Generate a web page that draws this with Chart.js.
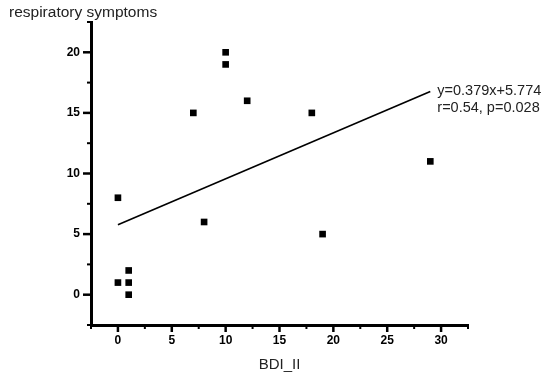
<!DOCTYPE html>
<html>
<head>
<meta charset="utf-8">
<script src="https://cdn.jsdelivr.net/npm/chart.js@4"></script>
<style>
  html, body { margin: 0; padding: 0; background: #fff; }
  #wrap { width: 550px; height: 382px; }
</style>
</head>
<body>
<div id="wrap"><canvas id="bdi-scatter"></canvas></div>
<script>
// data
const bdiScores = [0, 0, 1, 1, 1, 7, 8, 10, 10, 12, 18, 19, 29];
const symptomScores = [1, 8, 0, 1, 2, 15, 6, 19, 20, 16, 15, 5, 11];
const fitX = [0, 29];
const fitY = [5.774, 16.765];
const fitText = ['y=0.379x+5.774', 'r=0.54, p=0.028'];
const yTitle = 'respiratory symptoms';
const xTitle = 'BDI_II';

const FONT = 'Arial, "Liberation Sans", sans-serif';

document.addEventListener('DOMContentLoaded', function() {
    const points = bdiScores.map((x, i) => ({ x: x, y: symptomScores[i] }));
    const fitLine = fitX.map((x, i) => ({ x: x, y: fitY[i] }));

    // short outward ticks, longer on the labelled values
    const axisTicks = {
        id: 'axisTicks',
        afterDraw(chart) {
            const ctx = chart.ctx;
            const xs = chart.scales.x, ys = chart.scales.y;
            ctx.save();
            ctx.strokeStyle = '#000';
            xs.ticks.forEach(t => {
                const major = t.value % 5 === 0;
                const px = xs.getPixelForValue(t.value);
                ctx.lineWidth = major ? 2.5 : 2;
                ctx.beginPath();
                ctx.moveTo(px, xs.top);
                ctx.lineTo(px, xs.top + (major ? 7 : 4));
                ctx.stroke();
            });
            ys.ticks.forEach(t => {
                const major = t.value % 5 === 0;
                const py = ys.getPixelForValue(t.value);
                ctx.lineWidth = major ? 2.5 : 2;
                ctx.beginPath();
                ctx.moveTo(ys.right, py);
                ctx.lineTo(ys.right - (major ? 8 : 4), py);
                ctx.stroke();
            });
            ctx.restore();
        }
    };

    // y title at top-left and the fit equation next to the line end
    const labels = {
        id: 'labels',
        afterDraw(chart) {
            const ctx = chart.ctx;
            const xs = chart.scales.x, ys = chart.scales.y;
            ctx.save();
            ctx.fillStyle = '#222';
            ctx.textAlign = 'left';
            ctx.textBaseline = 'alphabetic';
            ctx.font = '15.5px ' + FONT;
            ctx.fillText(yTitle, 9, 17);
            const ex = xs.getPixelForValue(fitX[fitX.length - 1]);
            const ey = ys.getPixelForValue(fitY[fitY.length - 1]);
            ctx.font = '14.5px ' + FONT;
            ctx.fillText(fitText[0], ex + 7, ey + 3);
            ctx.fillText(fitText[1], ex + 7, ey + 20);
            ctx.restore();
        }
    };

    const ctx = document.getElementById('bdi-scatter').getContext('2d');
    new Chart(ctx, {
        type: 'scatter',
        data: {
            datasets: [{
                data: points,
                pointStyle: 'rect',
                pointRadius: 4.7,
                pointBorderWidth: 0,
                backgroundColor: '#000',
                borderColor: '#000',
                order: 0
            }, {
                data: fitLine,
                showLine: true,
                pointRadius: 0,
                borderColor: '#000',
                borderWidth: 1.6,
                fill: false,
                order: 1
            }]
        },
        options: {
            responsive: true,
            maintainAspectRatio: false,
            animation: false,
            layout: { padding: { left: 0, right: 82, top: 22, bottom: 0 } },
            plugins: {
                legend: { display: false },
                tooltip: { enabled: false }
            },
            scales: {
                x: {
                    type: 'linear',
                    min: -2.5,
                    max: 32.5,
                    afterFit(scale) { scale.height = 57; },
                    grid: { display: true, drawOnChartArea: false, drawTicks: false },
                    border: { display: true, width: 3, color: '#000' },
                    ticks: {
                        stepSize: 2.5,
                        autoSkip: false,
                        maxRotation: 0,
                        padding: 8,
                        color: '#000',
                        font: { family: FONT, size: 12, weight: 'bold' },
                        callback: v => (v % 5 === 0 && v >= 0) ? v : ''
                    },
                    title: {
                        display: true,
                        text: xTitle,
                        color: '#222',
                        font: { family: FONT, size: 15 },
                        padding: { top: 0, bottom: 8 }
                    }
                },
                y: {
                    type: 'linear',
                    min: -2.5,
                    max: 22.5,
                    afterFit(scale) { scale.width = 91; },
                    grid: { display: true, drawOnChartArea: false, drawTicks: false },
                    border: { display: true, width: 3, color: '#000' },
                    ticks: {
                        stepSize: 2.5,
                        autoSkip: false,
                        padding: 11,
                        color: '#000',
                        font: { family: FONT, size: 12, weight: 'bold' },
                        callback: v => (v % 5 === 0 && v >= 0 && v <= 20) ? v : ''
                    }
                }
            }
        },
        plugins: [axisTicks, labels]
    });
});
</script>
</body>
</html>
